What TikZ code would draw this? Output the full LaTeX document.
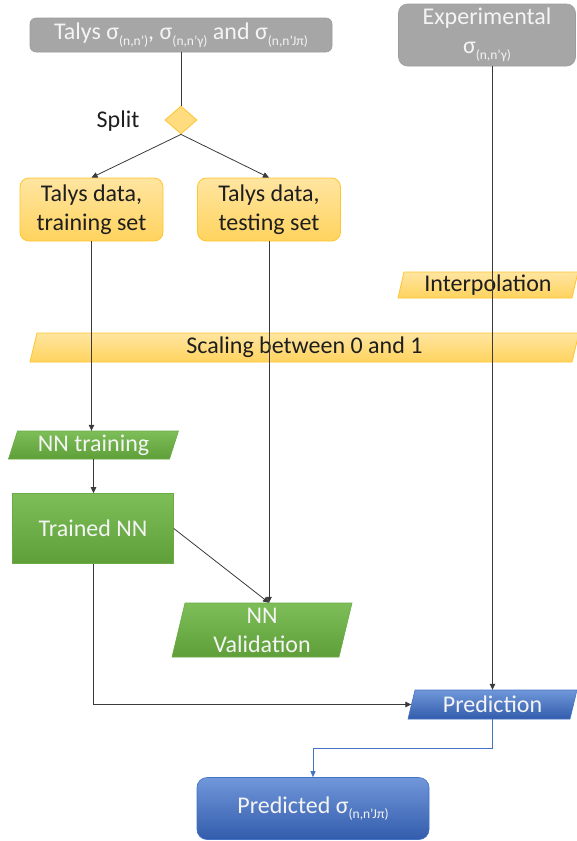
\documentclass[tikz,border=0pt]{standalone}
\usepackage{fontspec}
\setmainfont{Carlito}
\usetikzlibrary{arrows.meta,shapes.geometric}

\definecolor{boxgray}{HTML}{A6A6A6}
\definecolor{grayline}{HTML}{9C9C9C}
\definecolor{grtext}{HTML}{F4F4F4}
\definecolor{ortop}{HTML}{FFE5A0}
\definecolor{orbot}{HTML}{FFD35E}
\definecolor{orline}{HTML}{FFC530}
\definecolor{grtop}{HTML}{7DBE58}
\definecolor{grbot}{HTML}{5F9F3A}
\definecolor{grline}{HTML}{6AAB45}
\definecolor{bltop}{HTML}{7097DA}
\definecolor{blbot}{HTML}{325CAC}
\definecolor{blline}{HTML}{4472C4}
\definecolor{darktext}{HTML}{1E1E1E}
\definecolor{linkcol}{HTML}{3A3A3A}

% small lowered subscript used in the cross-section labels
\newcommand\sub[1]{\raisebox{-0.5ex}{\fontsize{13.5}{13.5}\selectfont #1}}

% parallelogram: name, cx, cy, width, height, slant, fill style, text colour, text
\newcommand\slantbox[9]{%
  \path[#7] ({#2-#4/2+#6/2},{#3-#5/2}) -- ({#2+#4/2+#6/2},{#3-#5/2})
    -- ({#2+#4/2-#6/2},{#3+#5/2}) -- ({#2-#4/2-#6/2},{#3+#5/2}) -- cycle;
  \node[slanttext, text=#8, minimum width=#4, minimum height=#5] (#1) at (#2,#3) {#9};}

\tikzset{
  base/.style={font=\fontsize{24}{29}\selectfont, align=center, inner sep=0pt},
  graybox/.style={base, rounded corners=6pt, fill=boxgray, draw=grayline, line width=0.6pt, text=grtext},
  orangebox/.style={base, rounded corners=9pt, top color=ortop, bottom color=orbot, draw=orline, line width=0.8pt, text=darktext},
  greenbox/.style={base, top color=grtop, bottom color=grbot, draw=grline, line width=0.6pt, text=grtext},
  bluebox/.style={base, rounded corners=10pt, top color=bltop, bottom color=blbot, draw=blline, line width=0.6pt, text=grtext},
  slanttext/.style={base, shape=rectangle},
  orfill/.style={top color=ortop, bottom color=orbot, draw=orline, line width=0.8pt},
  grfill/.style={top color=grtop, bottom color=grbot, draw=grline, line width=0.6pt},
  blfill/.style={top color=bltop, bottom color=blbot, draw=blline, line width=0.6pt},
  link/.style={draw=linkcol, line width=0.8pt},
  arr/.style={link, -{Triangle[length=6pt,width=5.5pt]}},
  bluearr/.style={draw=blline, line width=0.8pt, -{Triangle[length=6pt,width=5pt]}},
}

\begin{document}
\begin{tikzpicture}[x=1pt,y=-1pt]
\useasboundingbox (0,0) rectangle (577,841);

% sources
\node[graybox, minimum width=302, minimum height=34] (talys) at (181,35)
  {Talys σ\sub{(n,n’)}, σ\sub{(n,n’γ)} and σ\sub{(n,n’Jπ)}};
\node[graybox, rounded corners=9pt, minimum width=177, minimum height=62] (exp) at (487,35)
  {Experimental\\σ\sub{(n,n’γ)}};

% split decision
\node[diamond, minimum width=32, minimum height=28, inner sep=0pt, fill=orbot!80!white, draw=orline, line width=0.8pt] (split) at (181,120) {};
\node[base, text=darktext] (splitlbl) at (118,121) {Split};

% data sets
\node[orangebox, minimum width=143, minimum height=63] (train) at (91.5,209.5) {Talys data,\\training set};
\node[orangebox, minimum width=143, minimum height=63] (test) at (269,209.5) {Talys data,\\testing set};

% processing steps
\slantbox{interp}{488}{285}{174}{26}{6}{orfill}{darktext}{Interpolation}
\slantbox{scale}{304.5}{347.5}{542}{29}{7}{orfill}{darktext}{Scaling between 0 and 1}
\slantbox{ntrain}{93.5}{445}{161}{28}{9}{grfill}{grtext}{NN training}
\node[greenbox, minimum width=161, minimum height=70] (trained) at (93,528.5) {Trained NN};
\slantbox{val}{262}{630}{167}{54}{13}{grfill}{grtext}{NN\\Validation}
\slantbox{pred}{492.5}{704.5}{162}{29}{7}{blfill}{grtext}{Prediction}
\node[bluebox, minimum width=232, minimum height=62] (result) at (313,808.5) {Predicted σ\sub{(n,n’Jπ)}};

% connectors
\draw[link] (talys.south) -- (split.north);
\draw[arr] (split.south) -- (train.north);
\draw[arr] (split.south) -- (test.north);
\draw[arr] (train.south) -- (train.south |- ntrain.north);
\draw[arr] (ntrain.south) -- (ntrain.south |- trained.north);
\draw[arr] (test.south) -- (test.south |- val.north);
\draw[arr] (trained.east) -- (test.south |- val.north);
\draw[arr] (trained.south) |- (pred.west);
\draw[arr] (exp.south -| pred.north) -- (pred.north);
\draw[bluearr] (pred.south) -- ++(0,29) -| (result.north);
\end{tikzpicture}
\end{document}
